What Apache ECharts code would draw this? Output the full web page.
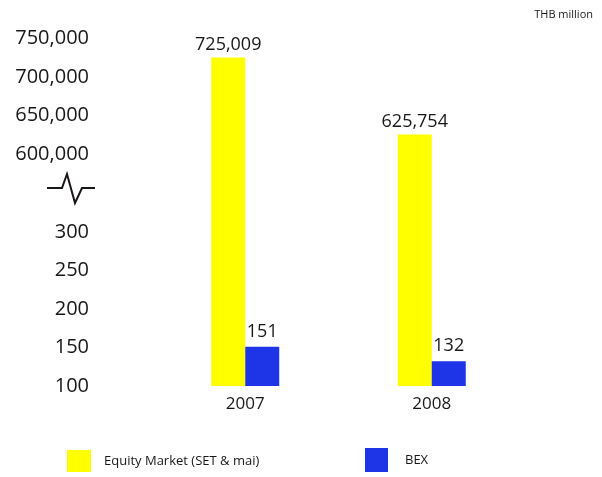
<!DOCTYPE html>
<html>
<head>
<meta charset="utf-8">
<script src="https://cdn.jsdelivr.net/npm/echarts@6/dist/echarts.min.js"></script>
<style>
  html, body { margin: 0; padding: 0; background: #ffffff; }
  #chart { width: 602px; height: 477px; }
</style>
</head>
<body>
<div id="chart"></div>
<script>
// Turnover by market, THB million
const years = ['2007', '2008'];
const equityMarket = [725009, 625754];
const bex = [151, 132];

// Tick labels for the two parts of the broken value axis
const upperTicks = [600000, 650000, 700000, 750000];
const lowerTicks = [100, 150, 200, 250, 300];

const EQUITY_NAME = 'Equity Market (SET & mai)';
const BEX_NAME = 'BEX';
const YELLOW = '#ffff00';
const BLUE = '#1d35e6';
const TEXT = '#1a1718';
const FONT = '"Open Sans", "Noto Sans", sans-serif';

const fmt = v => v.toLocaleString('en-US');

const chart = echarts.init(document.getElementById('chart'), null, { renderer: 'canvas' });

const barCommon = {
  type: 'bar',
  barWidth: 34,
  barGap: '0%',
  clip: true
};

const valueAxisCommon = {
  type: 'value',
  axisLine: { show: false },
  axisTick: { show: false },
  splitLine: { show: false },
  axisLabel: {
    margin: 63,
    fontSize: 20,
    color: TEXT,
    fontFamily: FONT
  }
};

chart.setOption({
  animation: false,
  backgroundColor: '#ffffff',
  title: {
    text: 'THB million',
    right: 4,
    top: 4,
    textStyle: { fontSize: 11, fontWeight: 'normal', color: TEXT, fontFamily: FONT }
  },
  legend: [
    {
      data: [EQUITY_NAME],
      left: 62, top: 445,
      itemWidth: 24, itemHeight: 22,
      icon: 'rect',
      textStyle: { fontSize: 13, color: TEXT, fontFamily: FONT, padding: [0, 0, 0, 8] }
    },
    {
      data: [BEX_NAME],
      left: 360, top: 443,
      itemWidth: 23, itemHeight: 24,
      icon: 'rect',
      textStyle: { fontSize: 13, color: TEXT, fontFamily: FONT, padding: [0, 0, 0, 12] }
    }
  ],
  grid: [
    { left: 152, width: 373, top: 38, height: 194 },
    { left: 152, width: 373, top: 232, height: 154 }
  ],
  xAxis: [
    {
      type: 'category', gridIndex: 0, data: years,
      axisLine: { show: false }, axisTick: { show: false }, axisLabel: { show: false }
    },
    {
      type: 'category', gridIndex: 1, data: years,
      axisLine: { show: false }, axisTick: { show: false },
      axisLabel: { margin: 10, fontSize: 17, color: TEXT, fontFamily: FONT }
    }
  ],
  yAxis: [
    Object.assign({}, valueAxisCommon, {
      gridIndex: 0,
      min: 500000, max: upperTicks[upperTicks.length - 1], interval: 50000,
      axisLabel: Object.assign({}, valueAxisCommon.axisLabel, {
        formatter: v => (upperTicks.indexOf(v) >= 0 ? fmt(v) : '')
      })
    }),
    Object.assign({}, valueAxisCommon, {
      gridIndex: 1,
      min: lowerTicks[0], max: lowerTicks[lowerTicks.length - 1], interval: 50,
      axisLabel: Object.assign({}, valueAxisCommon.axisLabel, {
        formatter: v => (lowerTicks.indexOf(v) >= 0 ? fmt(v) : '')
      })
    })
  ],
  series: [
    // upper part of the broken axis
    Object.assign({}, barCommon, {
      name: EQUITY_NAME, xAxisIndex: 0, yAxisIndex: 0,
      data: equityMarket,
      itemStyle: { color: YELLOW },
      label: {
        show: true, position: 'top', distance: 4,
        fontSize: 18, color: TEXT, fontFamily: FONT,
        formatter: p => fmt(p.value)
      }
    }),
    Object.assign({}, barCommon, {
      name: BEX_NAME, xAxisIndex: 0, yAxisIndex: 0,
      data: bex.map(() => '-'),
      itemStyle: { color: BLUE }
    }),
    // lower part of the broken axis
    Object.assign({}, barCommon, {
      name: EQUITY_NAME, xAxisIndex: 1, yAxisIndex: 1,
      data: equityMarket,
      itemStyle: { color: YELLOW }
    }),
    Object.assign({}, barCommon, {
      name: BEX_NAME, xAxisIndex: 1, yAxisIndex: 1,
      data: bex,
      itemStyle: { color: BLUE },
      label: {
        show: true, position: 'top', distance: 6,
        fontSize: 18, color: TEXT, fontFamily: FONT,
        formatter: p => fmt(p.value)
      }
    })
  ],
  graphic: [
    {
      // axis break mark between the two scales
      type: 'polyline',
      shape: { points: [[47, 188], [62, 188], [67, 174], [75, 203], [82, 188], [95, 188]] },
      style: { stroke: TEXT, lineWidth: 2, fill: null, lineJoin: 'miter' }
    }
  ]
});
</script>
</body>
</html>
